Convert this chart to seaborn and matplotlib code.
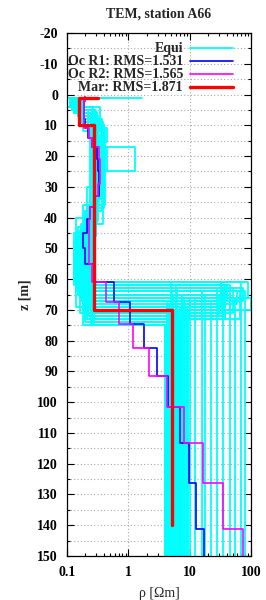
import numpy as np
import pandas as pd
import seaborn as sns
import matplotlib
matplotlib.use("Agg")
import matplotlib.pyplot as plt
from matplotlib.lines import Line2D
from matplotlib.ticker import MultipleLocator, LogLocator, NullFormatter

# ---------------- data ----------------
# Occam model 1 (blue): rho of each point (steps-post), depth of each point
oc1_rho = [0.20, 0.20, 0.19, 0.19, 0.20, 0.22, 0.26, 0.31, 0.32, 0.33, 0.33, 0.28, 0.24, 0.21,
           0.18, 0.20, 0.29, 0.59, 1.06, 1.82, 2.90, 4.38, 6.88, 9.75, 12.7, 17.1]
oc_z = [0.8, 2, 5, 8, 11, 14, 17, 21, 25, 29, 33, 36.6, 40.5, 45, 50, 55, 61, 67.3, 74.6,
        82.4, 91.5, 101.6, 113.3, 126.3, 141.2, 150]
# Occam model 2 (magenta)
oc2_rho = [0.20, 0.20, 0.19, 0.19, 0.19, 0.23, 0.26, 0.33, 0.34, 0.35, 0.32, 0.29, 0.24, 0.23,
           0.23, 0.23, 0.26, 0.44, 0.705, 1.21, 2.17, 4.22, 8.18, 16.7, 34.6, 73.3]
# Marquardt model (red)
mar_rho = [0.32, 0.155, 0.28, 5.1]
mar_z = [1.0, 9.8, 70, 140]

# Equivalent models (cyan)
equi_rho = [
    [0.20, 0.15, 0.30, 0.22, 4.2], [0.25, 0.12, 0.29, 0.20, 4.5], [0.18, 0.17, 0.38, 0.25, 5.0],
    [0.30, 0.14, 0.28, 0.18, 4.0], [0.22, 0.16, 0.30, 0.16, 5.5], [0.16, 0.11, 0.27, 0.23, 6.0],
    [0.35, 0.19, 0.42, 0.27, 4.8], [0.20, 0.15, 0.29, 0.14, 7.0], [0.24, 0.13, 0.30, 0.21, 6.5],
    [0.19, 0.18, 0.40, 0.26, 4.3],
    [0.20, 0.15, 0.30, 0.20, 35, 5.0], [0.23, 0.14, 0.29, 0.19, 40, 6.0],
    [0.17, 0.16, 0.31, 0.22, 60, 4.5], [0.28, 0.12, 0.28, 0.17, 90, 7.5],
    [0.21, 0.17, 0.30, 0.24, 45, 5.5], [0.19, 0.15, 0.32, 0.21, 38, 9.0],
    [0.26, 0.13, 0.29, 0.18, 75, 4.2], [0.22, 0.16, 0.30, 0.23, 100, 6.5],
    [0.20, 0.15, 0.30, 0.21, 12], [0.25, 0.14, 0.29, 0.19, 16], [0.18, 0.17, 0.25, 0.24, 22],
    [0.30, 0.13, 0.28, 0.18, 28], [0.21, 0.16, 0.30, 0.22, 35], [0.23, 0.15, 0.29, 0.20, 45],
    [0.17, 0.18, 0.24, 0.25, 55], [0.27, 0.14, 0.30, 0.19, 70], [0.20, 0.16, 0.31, 0.23, 80],
    [0.24, 0.15, 0.29, 0.21, 18],
    [1.65, 0.15, 0.30, 0.21, 5.0],
    [0.22, 0.16, 0.28, 1.3, 0.29, 0.20, 6.0],
    [0.20, 0.15, 0.25, 0.45, 0.30, 0.22, 5.2],
    [0.50, 0.10, 0.35, 0.30, 0.20, 4.6],
    [0.35, 0.11, 0.26, 0.33, 0.18, 8.0],
    [0.20, 0.13, 0.22, 0.40, 0.28, 0.21, 9.5],
    [0.25, 0.18, 0.30, 0.45, 0.27, 0.19, 5.8],
    [0.22, 0.14, 0.28, 0.13, 6.0], [0.20, 0.15, 0.29, 0.15, 7.5], [0.24, 0.16, 0.30, 0.17, 8.5],
    [0.18, 0.13, 0.29, 0.14, 5.2], [0.26, 0.17, 0.31, 0.26, 4.4], [0.21, 0.15, 0.30, 0.28, 4.1],
    [0.19, 0.14, 0.28, 0.16, 10], [0.23, 0.16, 0.37, 0.20, 9.0], [0.28, 0.12, 0.27, 0.22, 5.6],
    [0.17, 0.15, 0.30, 0.19, 6.8],
    [0.20, 0.15, 0.29, 0.21, 30, 4.6], [0.22, 0.16, 0.30, 0.20, 50, 5.3],
    [0.24, 0.14, 0.31, 0.22, 65, 7.0],
    [0.21, 0.15, 0.30, 0.20, 33, 4.8], [0.19, 0.16, 0.29, 0.18, 36, 5.8],
    [0.23, 0.14, 0.31, 0.22, 34, 4.4], [0.25, 0.17, 0.30, 0.24, 38, 6.2],
    [0.20, 0.13, 0.28, 0.15, 32, 7.8], [0.18, 0.15, 0.29, 0.19, 37, 5.1],
    [0.22, 0.14, 0.27, 0.13, 4.9], [0.24, 0.16, 0.30, 0.14, 6.2], [0.20, 0.15, 0.29, 0.16, 5.4],
    [0.21, 0.17, 0.31, 0.18, 4.7], [0.26, 0.13, 0.30, 0.25, 4.0], [0.23, 0.16, 0.36, 0.27, 4.3],
    [0.19, 0.12, 0.29, 0.21, 5.9], [0.22, 0.15, 0.30, 0.17, 8.0],
]
equi_z = [
    [1, 7, 38, 72, 150], [1, 5, 40, 74, 150], [1, 9, 42, 73, 150],
    [1, 6, 44, 75, 150], [1, 8, 46, 71, 150], [1, 4, 39, 70, 150],
    [1, 11, 36, 72, 150], [1, 7, 47, 69, 150], [1, 6, 41, 73, 150],
    [1, 10, 37, 74, 150],
    [1, 7, 40, 63, 69, 150], [1, 6, 42, 62, 67, 150],
    [1, 8, 39, 64, 68, 150], [1, 5, 44, 61, 66, 150],
    [1, 9, 38, 65, 70, 150], [1, 7, 41, 62, 72, 150],
    [1, 6, 43, 63, 67, 150], [1, 8, 40, 66, 70, 150],
    [1, 7, 40, 66, 150], [1, 6, 42, 64, 150], [1, 9, 39, 67, 150],
    [1, 5, 44, 63, 150], [1, 8, 41, 65, 150], [1, 7, 43, 62, 150],
    [1, 10, 38, 66, 150], [1, 6, 42, 61, 150], [1, 8, 40, 64, 150],
    [1, 7, 41, 65, 150],
    [1, 7, 40, 71, 150],
    [1, 8, 17, 25, 42, 72, 150],
    [1, 6, 11, 15.5, 40, 70, 150],
    [1, 4, 12, 38, 73, 150],
    [1, 4, 13, 36, 69, 150],
    [1, 5, 10, 17, 30, 70, 150],
    [1, 12, 17, 25, 45, 71, 150],
    [1, 6, 45, 62, 150], [1, 7, 43, 65, 150], [1, 8, 42, 67, 150],
    [1, 6, 40, 64, 150], [1, 9, 35, 75, 150], [1, 7, 33, 75, 150],
    [1, 6, 46, 66, 150], [1, 8, 38, 69, 150], [1, 5, 36, 72, 150],
    [1, 7, 41, 71, 150],
    [1, 7, 41, 65, 72, 150], [1, 8, 40, 63, 71, 150],
    [1, 6, 39, 64, 73, 150],
    [1, 7, 41, 61, 68, 150], [1, 8, 43, 62, 70, 150],
    [1, 6, 39, 64, 71, 150], [1, 9, 37, 66, 73, 150],
    [1, 5, 45, 61, 69, 150], [1, 7, 42, 63, 72, 150],
    [1, 6, 48, 61, 150], [1, 8, 46, 63, 150], [1, 7, 44, 65, 150],
    [1, 9, 42, 68, 150], [1, 5, 38, 75, 150], [1, 8, 34, 74, 150],
    [1, 5, 41, 72, 150], [1, 7, 45, 66, 150],
]

labels = ["Equi", "Oc R1: RMS=1.531", "Oc R2: RMS=1.565", "Mar: RMS=1.871"]
colors = ["#00FFFF", "#0000FF", "#FF00FF", "#FF0000"]
title = "TEM, station A66"
xticks = [0.1, 1, 10, 100]
xticklabels = ["0.1", "1", "10", "100"]

# ---------------- plotting ----------------
sns.set_theme(style="white")
plt.rcParams["font.family"] = ["Liberation Serif", "DejaVu Serif"]
plt.rcParams["font.weight"] = "bold"
plt.rcParams["axes.unicode_minus"] = False

fig = plt.figure(figsize=(2.66, 6.0), dpi=100)
ax = fig.add_axes([67 / 266, 1 - 556 / 600, (251 - 67) / 266, (556 - 33) / 600])
ax.set_xscale("log")

rows = []
for i, (r, z) in enumerate(zip(equi_rho, equi_z)):
    for rr, zz in zip(r, z):
        rows.append({"model": i, "rho": rr, "z": zz})
equi_df = pd.DataFrame(rows)
sns.lineplot(data=equi_df, x="rho", y="z", units="model", estimator=None, sort=False,
             drawstyle="steps-post", color=colors[0], lw=1.3, ax=ax, legend=False)

oc1_df = pd.DataFrame({"rho": oc1_rho, "z": oc_z})
oc2_df = pd.DataFrame({"rho": oc2_rho, "z": oc_z})
mar_df = pd.DataFrame({"rho": mar_rho, "z": mar_z})
sns.lineplot(data=oc1_df, x="rho", y="z", estimator=None, sort=False,
             drawstyle="steps-post", color=colors[1], lw=1.2, ax=ax, legend=False)
sns.lineplot(data=oc2_df, x="rho", y="z", estimator=None, sort=False,
             drawstyle="steps-post", color=colors[2], lw=1.2, ax=ax, legend=False)
sns.lineplot(data=mar_df, x="rho", y="z", estimator=None, sort=False,
             drawstyle="steps-post", color=colors[3], lw=2.4, ax=ax, legend=False)

ax.set_xlim(0.1, 100)
ax.set_ylim(150, -20)
ax.set_xticks(xticks)
ax.set_xticklabels(xticklabels)
ax.xaxis.set_minor_locator(LogLocator(base=10, subs=np.arange(2, 10)))
ax.xaxis.set_minor_formatter(NullFormatter())
ax.yaxis.set_major_locator(MultipleLocator(10))
ax.yaxis.set_minor_locator(MultipleLocator(5))

ax.tick_params(which="both", direction="in", top=True, right=True, bottom=True, left=True,
               labelsize=10, colors="black", width=0.8)
ax.tick_params(which="major", length=5)
ax.tick_params(which="minor", length=2.5)
ax.tick_params(axis="y", which="major", pad=6.5)
ax.tick_params(axis="x", which="major", pad=7)
for lab in ax.get_xticklabels() + ax.get_yticklabels():
    lab.set_fontweight("bold")

ax.grid(True, which="major", axis="x", ls=(0, (1, 2)), color="#aaaaaa", lw=0.8)
ax.grid(True, which="both", axis="y", ls=(0, (1, 2)), color="#aaaaaa", lw=0.8)
ax.set_axisbelow(True)
for s in ax.spines.values():
    s.set_color("black")
    s.set_linewidth(0.9)

ax.set_xlabel("ρ [Ωm]", fontsize=10, fontweight="normal", labelpad=6)
ax.set_ylabel("z [m]", fontsize=10, fontweight="bold", labelpad=4)
ax.set_title(title, fontsize=10, fontweight="bold", pad=11)

handles = [Line2D([], [], color=colors[0], lw=1.3),
           Line2D([], [], color=colors[1], lw=1.2),
           Line2D([], [], color=colors[2], lw=1.2),
           Line2D([], [], color=colors[3], lw=2.4)]
leg = ax.legend(handles, labels, loc="upper right", bbox_to_anchor=(0.902, 0.982),
                markerfirst=False, frameon=False, fontsize=10, handlelength=3.1,
                handletextpad=0.5, labelspacing=0.0, borderaxespad=0.0, borderpad=0.0)
for t in leg.get_texts():
    t.set_fontweight("bold")

fig.savefig("out.png", dpi=100)
